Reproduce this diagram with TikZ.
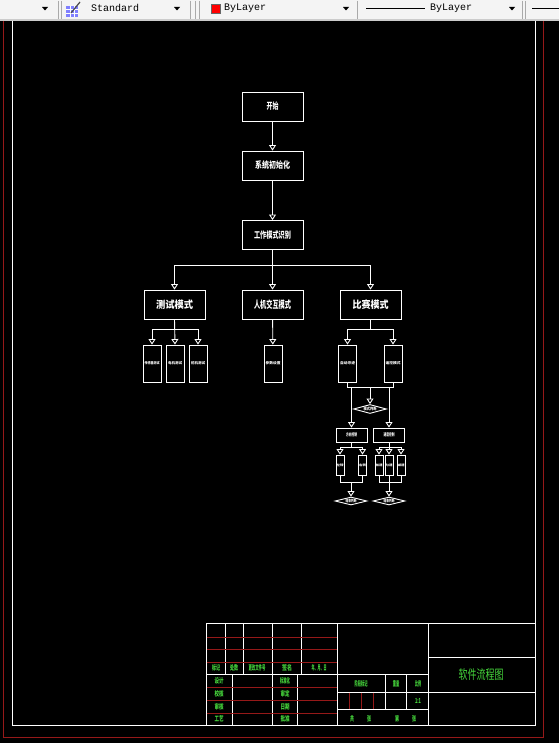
\documentclass[tikz,border=0pt]{standalone}
\usepackage{graphicx}
\usepackage{fontspec}
\newfontfamily\cjk{Noto Sans CJK SC}
\newfontfamily\barfont{Liberation Mono}
\usetikzlibrary{arrows.meta,shapes.geometric}
\definecolor{cadred}{RGB}{150,25,25}
\definecolor{cadgreen}{RGB}{70,215,60}
\definecolor{barbg}{RGB}{244,244,244}
\definecolor{bargray}{RGB}{170,170,170}
\newcommand\fitto[2]{\resizebox{#1}{\height}{#2}}

\begin{document}
\begin{tikzpicture}[x=1pt,y=-1pt,
  link/.style={draw=white, line width=0.9pt},
  flowarrow/.style={link, -{Triangle[open,width=7pt,length=5.5pt]}},
  mainbox/.style={draw=white, line width=0.9pt, inner sep=0pt, text=white,
    minimum width=61pt, minimum height=29pt, font=\cjk\bfseries\fontsize{9}{9}\selectfont},
  modebox/.style={mainbox, font=\cjk\bfseries\fontsize{10}{10}\selectfont},
  tallbox/.style={mainbox, minimum width=18pt, minimum height=37pt, font=\cjk\bfseries\fontsize{3.5}{3.5}\selectfont},
  ctrlbox/.style={mainbox, minimum width=31pt, minimum height=14pt, font=\cjk\bfseries\fontsize{4.5}{4.5}\selectfont},
  thinbox/.style={mainbox, minimum width=8pt, minimum height=20pt, font=\cjk\bfseries\fontsize{3}{3}\selectfont},
  judge/.style={diamond, draw=white, line width=0.9pt, inner sep=0pt, text=white, shape aspect=3.6,
    minimum width=33pt, minimum height=9pt, font=\cjk\bfseries\fontsize{4}{4}\selectfont},
  greentext/.style={text=cadgreen, inner sep=0pt, font=\cjk\bfseries\fontsize{7}{7}\selectfont},
  cadline/.style={draw=white, line width=0.8pt},
  redline/.style={draw=cadred, line width=0.8pt},
  bartext/.style={anchor=west, inner sep=0pt, font=\barfont\fontsize{10}{10}\selectfont}]

\useasboundingbox (0,0) rectangle (559,743);

% toolbar
\fill[barbg] (0,0) rectangle (559,21);
\fill[bargray!60] (0,19) rectangle (559,21);
\draw[bargray] (58,1) -- (58,19) (61,1) -- (61,19);
\draw[bargray] (190,1) -- (190,19) (195,1) -- (195,19) (199,1) -- (199,19);
\draw[bargray] (357,1) -- (357,19) (522,1) -- (522,19) (525,1) -- (525,19);
\foreach \ax in {45,177,346,512}
  \fill (\ax-3,7) -- (\ax+3,7) -- (\ax,10.5) -- cycle;
\fill[blue!50] (66,6) rectangle (78,17);
\draw[white, line width=0.4pt] (66,9.5) -- (78,9.5) (66,13) -- (78,13) (70,6) -- (70,17) (74,6) -- (74,17);
\draw[black!70, line width=1.2pt] (71,13) -- (80,2);
\node[bartext] (stylename) at (91,7.5) {Standard};
\filldraw[fill=red, draw=black!60, line width=0.4pt] (211,4) rectangle (220,13);
\node[bartext] (colorname) at (224,8) {ByLayer};
\draw[black, line width=0.5pt] (366,8) -- (425,8);
\node[bartext] (linename) at (430,8) {ByLayer};
\draw[black, line width=0.5pt] (532,8) -- (559,8);

% drawing area and frames
\fill[black] (0,21) rectangle (559,743);
\draw[redline, line width=1pt] (3.5,21) -- (3.5,737) -- (543,737) -- (543,21);
\draw[cadline, line width=1pt] (12.5,21) -- (12.5,725) -- (535,725) -- (535,21);

% main flow
\node[mainbox] (start) at (272.5,106.5) {\fitto{12pt}{开始}};
\node[mainbox] (init) at (272.5,165.5) {\fitto{35pt}{系统初始化}};
\node[mainbox] (mode) at (272.5,235) {\fitto{37pt}{工作模式识别}};
\draw[flowarrow] (start) -- (init);
\draw[flowarrow] (init) -- (mode);

\node[modebox] (test) at (174.5,304.5) {\fitto{37pt}{测试模式}};
\node[modebox] (hmi) at (272.5,304.5) {\fitto{37pt}{人机交互模式}};
\node[modebox] (game) at (370.5,304.5) {\fitto{36pt}{比赛模式}};
\draw[flowarrow] (mode.south) -- ++(0,15) -| (test.north);
\draw[flowarrow] (mode.south) -- (hmi.north);
\draw[flowarrow] (mode.south) -- ++(0,15) -| (game.north);

% test mode
\node[tallbox] (t1) at (152,363.5) {\fitto{15pt}{传感器测试}};
\node[tallbox] (t2) at (175,363.5) {\fitto{14pt}{电机测试}};
\node[tallbox] (t3) at (198,363.5) {\fitto{14pt}{舵机测试}};
\draw[flowarrow] (test.south) -- ++(0,10) -| (t1.north);
\draw[flowarrow] (test.south) -- (t2.north);
\draw[flowarrow] (test.south) -- ++(0,10) -| (t3.north);

% hmi mode
\node[tallbox] (h1) at (273,363.5) {\fitto{15pt}{参数设置}};
\draw[flowarrow] (hmi) -- (h1);

% game mode
\node[tallbox] (g1) at (347.5,363.5) {\fitto{15pt}{自动寻迹}};
\node[tallbox] (g2) at (393,363.5) {\fitto{15pt}{遥控模式}};
\draw[flowarrow] (game.south) -- ++(0,10) -| (g1.north);
\draw[flowarrow] (game.south) -- ++(0,10) -| (g2.north);
\draw[link] (g1.south) -- ++(0,5) -| (g2.south);
\coordinate (gjoin) at (370,387);

\node[judge] (judge) at (370,409) {\fitto{13pt}{模式判断}};
\node[ctrlbox] (dirbox) at (351.5,435) {\fitto{11pt}{方向控制}};
\node[ctrlbox] (spdbox) at (389,435) {\fitto{11pt}{速度控制}};
\draw[flowarrow] (gjoin) -- (judge.north);
\draw[flowarrow] (gjoin -| dirbox.north) -- (dirbox.north);
\draw[flowarrow] (gjoin -| spdbox.north) -- (spdbox.north);

% direction control
\node[thinbox] (d1) at (340,465) {\fitto{7pt}{左转}};
\node[thinbox] (d2) at (362.5,465) {\fitto{7pt}{右转}};
\draw[flowarrow] (dirbox.south) -- ++(0,5) -| (d1.north);
\draw[flowarrow] (dirbox.south) -- ++(0,5) -| (d2.north);
\draw[link] (d1.south) -- ++(0,7) -| (d2.south);
\coordinate (djoin) at (351,482);
\node[judge, minimum width=32pt, minimum height=8pt] (endA) at (351,501) {\fitto{11pt}{结束判断}};
\draw[flowarrow] (djoin) -- (endA.north);

% speed control
\node[thinbox] (s1) at (379,465) {\fitto{7pt}{加速}};
\node[thinbox] (s2) at (389,465) {\fitto{7pt}{匀速}};
\node[thinbox] (s3) at (401,465) {\fitto{7pt}{减速}};
\draw[flowarrow] (spdbox.south) -- ++(0,5) -| (s1.north);
\draw[flowarrow] (spdbox.south) -- (s2.north);
\draw[flowarrow] (spdbox.south) -- ++(0,5) -| (s3.north);
\draw[link] (s1.south) -- ++(0,7) -| (s3.south);
\node[judge, minimum width=32pt, minimum height=8pt] (endB) at (389,501) {\fitto{11pt}{结束判断}};
\draw[flowarrow] (s2.south) -- (endB.north);

% title block
\draw[cadline] (206,623) rectangle (535,725);
\draw[cadline] (337,623) -- (337,725) (428,623) -- (428,725);
\draw[cadline] (206,674) -- (428,674) (337,692) -- (535,692) (337,709) -- (428,709) (428,657) -- (535,657);
\foreach \vx in {225,243,272,301} \draw[cadline] (\vx,623) -- (\vx,674);
\foreach \vx in {232,272,297} \draw[cadline] (\vx,674) -- (\vx,725);
\foreach \vx in {385,406} \draw[cadline] (\vx,674) -- (\vx,709);
\foreach \hy in {637,649,662,687,700,713} \draw[redline] (206.5,\hy) -- (336.5,\hy);
\foreach \vx in {349,361,373} \draw[redline] (\vx,692.5) -- (\vx,708.5);

\foreach \t/\x/\w [count=\i] in {标记/216/8, 处数/234/8, 更改文件号/257/17, 签名/287/10, 年、月、日/319/15}
  \node[greentext] (head\i) at (\x,668) {\fitto{\w pt}{\t}};
\foreach \t/\y [count=\i] in {设计/681, 校核/694, 审核/707, 工艺/719}
  \node[greentext] (role\i) at (219,\y) {\fitto{9pt}{\t}};
\foreach \t/\y/\w [count=\i] in {标准化/681/10, 审定/694/9, 日期/707/9, 批准/719/9}
  \node[greentext] (check\i) at (285,\y) {\fitto{\w pt}{\t}};
\node[greentext] (stage) at (361,684) {\fitto{13pt}{阶段标记}};
\node[greentext] (weight) at (396,684) {\fitto{6.5pt}{重量}};
\node[greentext] (ratio) at (418,684) {\fitto{6pt}{比例}};
\node[greentext] (ratioval) at (418,701) {\fitto{6pt}{1:1}};
\foreach \t/\x [count=\i] in {共/352, 张/369, 第/397, 张/414}
  \node[greentext] (sheet\i) at (\x,719) {\fitto{4pt}{\t}};
\node[greentext, font=\cjk\fontsize{13}{13}\selectfont] (title) at (481,675) {\fitto{45pt}{软件流程图}};

\end{tikzpicture}
\end{document}
